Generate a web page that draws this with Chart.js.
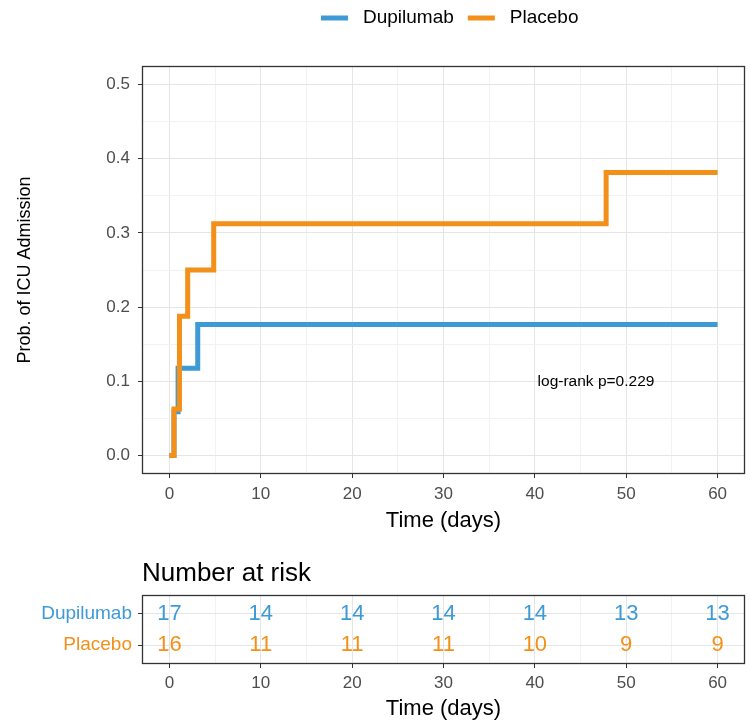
<!DOCTYPE html>
<html>
<head>
<meta charset="utf-8">
<script src="https://cdn.jsdelivr.net/npm/chart.js@4.4.0/dist/chart.umd.min.js"></script>
<style>
  body { margin: 0; background: #fff; }
  #wrap { position: relative; width: 750px; height: 726px; }
  canvas { position: absolute; left: 0; }
</style>
</head>
<body>
<div id="wrap">
  <canvas id="survival" width="750" height="540" style="top:0"></canvas>
  <canvas id="riskTable" width="750" height="186" style="top:540px"></canvas>
</div>
<script>
const strata = ['Dupilumab', 'Placebo'];
const colors = ['#3E9AD5', '#F39019'];

// cumulative probability of ICU admission (KM steps)
const dupiTimes = [0, 0.5, 0.95, 3.1, 60];
const dupiProb = [0, 0.0588, 0.1176, 0.1765, 0.1765];
const placeboTimes = [0, 0.5, 1.1, 2.0, 4.85, 47.8, 60];
const placeboProb = [0, 0.0625, 0.1875, 0.25, 0.3125, 0.3813, 0.3813];

const xTicks = [0, 10, 20, 30, 40, 50, 60];
const xMinor = [5, 15, 25, 35, 45, 55];
const yTicks = [0, 0.1, 0.2, 0.3, 0.4, 0.5];
const yMinor = [0.05, 0.15, 0.25, 0.35, 0.45];

const riskTimes = [0, 10, 20, 30, 40, 50, 60];
const dupiRisk = [17, 14, 14, 14, 14, 13, 13];
const placeboRisk = [16, 11, 11, 11, 10, 9, 9];

const pValueText = 'log-rank p=0.229';
const pValuePos = [40.3, 0.1];

const FONT = "'Liberation Sans', Arial, sans-serif";
Chart.defaults.font.family = FONT;
Chart.defaults.color = '#4D4D4D';

function isMajor(list, v) {
    return list.some(t => Math.abs(t - v) < 1e-9);
}

function toPoints(xs, ys) {
    return xs.map((x, i) => ({x: x, y: ys[i]}));
}

function allTicks(major, minor) {
    return major.concat(minor).sort((a, b) => a - b).map(v => ({value: v}));
}

// ggplot-like grid: light major lines, lighter minor lines, dark ticks on majors only
function gridFor(major, withMinor) {
    return {
        color: c => isMajor(major, c.tick.value) ? '#E5E5E5' : (withMinor ? '#F2F2F2' : 'rgba(0,0,0,0)'),
        lineWidth: 1,
        tickLength: 4,
        tickWidth: 1,
        tickColor: c => isMajor(major, c.tick.value) ? '#333333' : 'rgba(0,0,0,0)'
    };
}

const panelBorder = {
    id: 'panelBorder',
    afterDatasetsDraw(chart) {
        const a = chart.chartArea;
        const ctx = chart.ctx;
        ctx.save();
        ctx.strokeStyle = '#333333';
        ctx.lineWidth = 1.3;
        ctx.strokeRect(a.left + 0.5, a.top + 0.5, a.right - a.left - 1, a.bottom - a.top - 1);
        ctx.restore();
    }
};

const topLegend = {
    id: 'topLegend',
    afterDraw(chart) {
        const ctx = chart.ctx;
        ctx.save();
        ctx.font = '19px ' + FONT;
        ctx.textBaseline = 'middle';
        let x = 321;
        const y = 18;
        chart.data.datasets.forEach((ds) => {
            ctx.strokeStyle = ds.borderColor;
            ctx.lineWidth = 5;
            ctx.beginPath();
            ctx.moveTo(x, y);
            ctx.lineTo(x + 27, y);
            ctx.stroke();
            ctx.fillStyle = '#000000';
            ctx.fillText(ds.label, x + 42, y);
            x += 42 + ctx.measureText(ds.label).width + 14;
        });
        ctx.restore();
    }
};

const pValueNote = {
    id: 'pValueNote',
    afterDatasetsDraw(chart) {
        const ctx = chart.ctx;
        ctx.save();
        ctx.font = '15.5px ' + FONT;
        ctx.fillStyle = '#000000';
        ctx.textBaseline = 'middle';
        ctx.textAlign = 'left';
        ctx.fillText(pValueText, chart.scales.x.getPixelForValue(pValuePos[0]),
            chart.scales.y.getPixelForValue(pValuePos[1]));
        ctx.restore();
    }
};

new Chart(document.getElementById('survival').getContext('2d'), {
    type: 'line',
    data: {
        datasets: [{
            label: strata[0],
            data: toPoints(dupiTimes, dupiProb),
            borderColor: colors[0],
            backgroundColor: colors[0],
            borderWidth: 5,
            stepped: true,
            pointRadius: 0,
            borderCapStyle: 'butt',
            order: 1
        }, {
            label: strata[1],
            data: toPoints(placeboTimes, placeboProb),
            borderColor: colors[1],
            backgroundColor: colors[1],
            borderWidth: 5,
            stepped: true,
            pointRadius: 0,
            borderCapStyle: 'butt',
            order: 0
        }]
    },
    options: {
        responsive: false,
        animation: false,
        devicePixelRatio: 1,
        layout: {padding: {top: 66, right: 5, left: 0, bottom: 0}},
        plugins: {legend: {display: false}, tooltip: {enabled: false}},
        scales: {
            x: {
                type: 'linear', min: -3, max: 63,
                afterBuildTicks: s => { s.ticks = allTicks(xTicks, xMinor); },
                afterFit: s => { s.height = 66; },
                ticks: {
                    autoSkip: false, maxRotation: 0, padding: 6,
                    font: {size: 17},
                    callback: v => isMajor(xTicks, v) ? String(v) : ''
                },
                grid: gridFor(xTicks, true),
                border: {display: false},
                title: {display: true, text: 'Time (days)', color: '#000000',
                    font: {size: 22}, padding: {top: 0, bottom: 6}}
            },
            y: {
                type: 'linear', min: -0.025, max: 0.525,
                afterBuildTicks: s => { s.ticks = allTicks(yTicks, yMinor); },
                afterFit: s => { s.width = 142; },
                ticks: {
                    autoSkip: false, padding: 8,
                    font: {size: 17},
                    callback: v => isMajor(yTicks, v) ? v.toFixed(1) : ''
                },
                grid: gridFor(yTicks, true),
                border: {display: false},
                title: {display: true, text: 'Prob. of ICU Admission', color: '#000000',
                    font: {size: 18}, padding: {top: 14, bottom: 0}}
            }
        }
    },
    plugins: [panelBorder, topLegend, pValueNote]
});

// number at risk table
const riskNumbers = {
    id: 'riskNumbers',
    afterDatasetsDraw(chart) {
        const ctx = chart.ctx;
        ctx.save();
        ctx.font = '22px ' + FONT;
        ctx.textAlign = 'center';
        ctx.textBaseline = 'middle';
        chart.data.datasets.forEach((ds, di) => {
            ctx.fillStyle = ds.borderColor;
            chart.getDatasetMeta(di).data.forEach((pt, i) => {
                ctx.fillText(String(ds.risk[i]), pt.x, pt.y);
            });
        });
        ctx.font = '26px ' + FONT;
        ctx.fillStyle = '#000000';
        ctx.textAlign = 'left';
        ctx.fillText('Number at risk', chart.chartArea.left, 34);
        ctx.restore();
    }
};

new Chart(document.getElementById('riskTable').getContext('2d'), {
    type: 'scatter',
    data: {
        datasets: [{
            label: strata[0],
            data: riskTimes.map(t => ({x: t, y: 1})),
            risk: dupiRisk,
            borderColor: colors[0],
            pointRadius: 0
        }, {
            label: strata[1],
            data: riskTimes.map(t => ({x: t, y: 2})),
            risk: placeboRisk,
            borderColor: colors[1],
            pointRadius: 0
        }]
    },
    options: {
        responsive: false,
        animation: false,
        devicePixelRatio: 1,
        layout: {padding: {top: 55, right: 5, left: 0, bottom: 0}},
        plugins: {legend: {display: false}, tooltip: {enabled: false}},
        scales: {
            x: {
                type: 'linear', min: -3, max: 63,
                afterBuildTicks: s => { s.ticks = allTicks(xTicks, xMinor); },
                afterFit: s => { s.height = 62; },
                ticks: {
                    autoSkip: false, maxRotation: 0, padding: 5,
                    font: {size: 17},
                    callback: v => isMajor(xTicks, v) ? String(v) : ''
                },
                grid: gridFor(xTicks, true),
                border: {display: false},
                title: {display: true, text: 'Time (days)', color: '#000000',
                    font: {size: 22}, padding: {top: 0, bottom: 4}}
            },
            y: {
                type: 'linear', min: 0.4, max: 2.6, reverse: true,
                afterBuildTicks: s => { s.ticks = [{value: 1}, {value: 2}]; },
                afterFit: s => { s.width = 142; },
                ticks: {
                    autoSkip: false, padding: 6,
                    font: {size: 19},
                    color: c => colors[Math.round(c.tick.value) - 1],
                    callback: v => strata[Math.round(v) - 1]
                },
                grid: gridFor([1, 2], false),
                border: {display: false}
            }
        }
    },
    plugins: [panelBorder, riskNumbers]
});
</script>
</body>
</html>
